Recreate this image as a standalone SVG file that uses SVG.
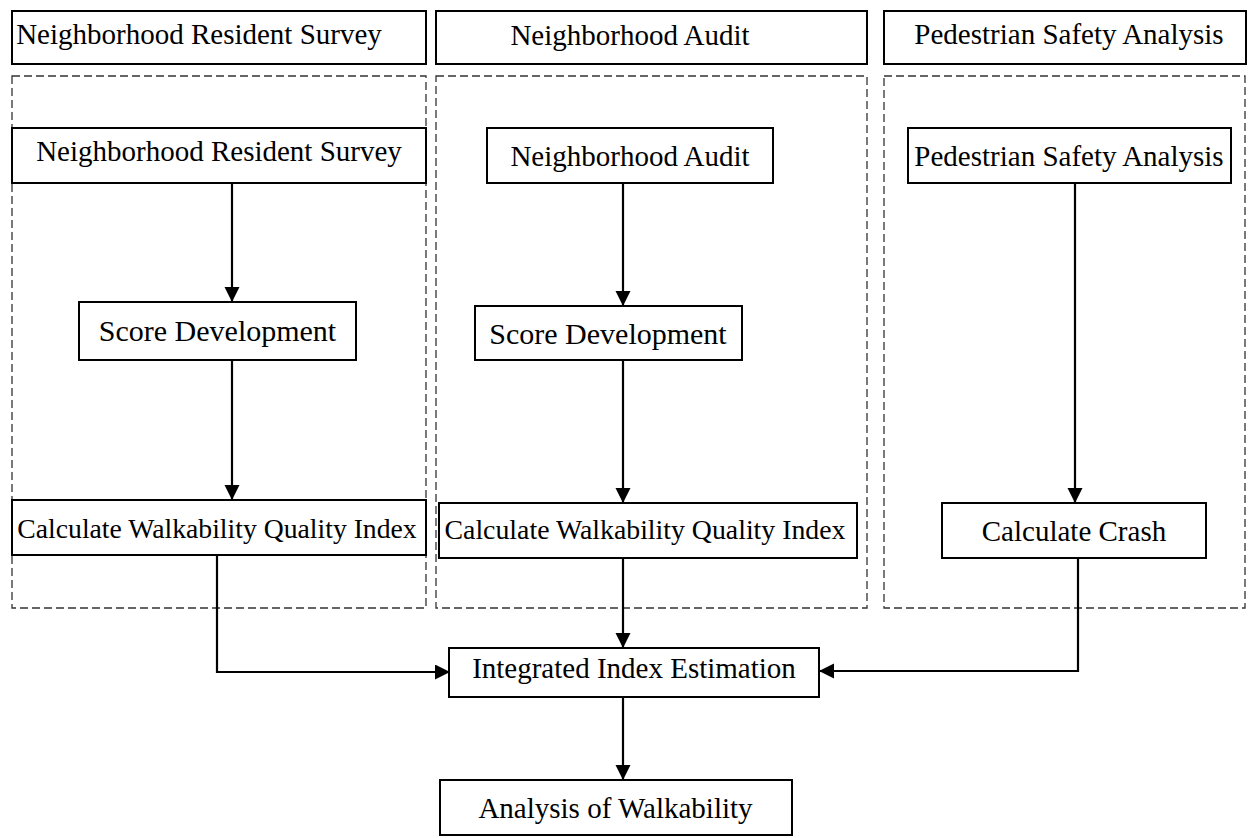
<svg xmlns="http://www.w3.org/2000/svg" width="1248" height="838" viewBox="0 0 1248 838">
<style>
.box{fill:#fff;stroke:#000;stroke-width:2}
.grp{fill:none;stroke:#333;stroke-width:1.3;stroke-dasharray:8 4}
.t{font-family:"Liberation Serif","Times New Roman",serif;font-size:29px;fill:#000;text-anchor:middle}
.ln{fill:none;stroke:#000;stroke-width:2.2}
</style>
<defs>
<marker id="ah" markerUnits="userSpaceOnUse" markerWidth="16" markerHeight="16" refX="15" refY="7.5" orient="auto">
<path d="M0,0 L15,7.5 L0,15 z" fill="#000"/>
</marker>
</defs>
<rect width="1248" height="838" fill="#fff"/>
<g id="groups">
<rect class="grp" x="12" y="76" width="414" height="532"/>
<rect class="grp" x="436" y="76" width="431" height="532"/>
<rect class="grp" x="884" y="76" width="361" height="532"/>
</g>
<g id="connectors">
<line class="ln" x1="232" y1="183" x2="232" y2="302" marker-end="url(#ah)"/>
<line class="ln" x1="232" y1="360" x2="232" y2="500" marker-end="url(#ah)"/>
<line class="ln" x1="623" y1="183" x2="623" y2="306" marker-end="url(#ah)"/>
<line class="ln" x1="623" y1="360" x2="623" y2="503" marker-end="url(#ah)"/>
<line class="ln" x1="1075" y1="183" x2="1075" y2="503" marker-end="url(#ah)"/>
<polyline class="ln" points="217,555 217,672 450,672" marker-end="url(#ah)"/>
<line class="ln" x1="623" y1="558" x2="623" y2="648" marker-end="url(#ah)"/>
<polyline class="ln" points="1078,558 1078,671 819,671" marker-end="url(#ah)"/>
<line class="ln" x1="623" y1="697" x2="623" y2="780" marker-end="url(#ah)"/>
</g>
<g id="header1"><rect class="box" x="12" y="11" width="414" height="53"/><text class="t" x="199" y="44">Neighborhood Resident Survey</text></g>
<g id="header2"><rect class="box" x="436" y="11" width="431" height="53"/><text class="t" x="630" y="45">Neighborhood Audit</text></g>
<g id="header3"><rect class="box" x="884" y="11" width="362" height="53"/><text class="t" x="1069" y="44">Pedestrian Safety Analysis</text></g>
<g id="survey"><rect class="box" x="12" y="128" width="414" height="55"/><text class="t" x="219" y="161">Neighborhood Resident Survey</text></g>
<g id="audit"><rect class="box" x="487" y="128" width="286" height="55"/><text class="t" x="630" y="166">Neighborhood Audit</text></g>
<g id="safety"><rect class="box" x="908" y="128" width="323" height="55"/><text class="t" x="1069" y="166">Pedestrian Safety Analysis</text></g>
<g id="score1"><rect class="box" x="79" y="302" width="277" height="58"/><text class="t" x="217.5" y="341" style="font-size:30px">Score Development</text></g>
<g id="score2"><rect class="box" x="475" y="306" width="267" height="54"/><text class="t" x="608" y="344" style="font-size:30px">Score Development</text></g>
<g id="wqi1"><rect class="box" x="12" y="500" width="414" height="55"/><text class="t" x="217" y="538" style="font-size:27.7px">Calculate Walkability Quality Index</text></g>
<g id="wqi2"><rect class="box" x="439" y="503" width="418" height="55"/><text class="t" x="645" y="539" style="font-size:27.8px">Calculate Walkability Quality Index</text></g>
<g id="crash"><rect class="box" x="942" y="503" width="264" height="55"/><text class="t" x="1074" y="541">Calculate Crash</text></g>
<g id="integrated"><rect class="box" x="449" y="648" width="370" height="49"/><text class="t" x="634" y="678">Integrated Index Estimation</text></g>
<g id="analysis"><rect class="box" x="440" y="780" width="352" height="55"/><text class="t" x="615.5" y="818">Analysis of Walkability</text></g>
</svg>
